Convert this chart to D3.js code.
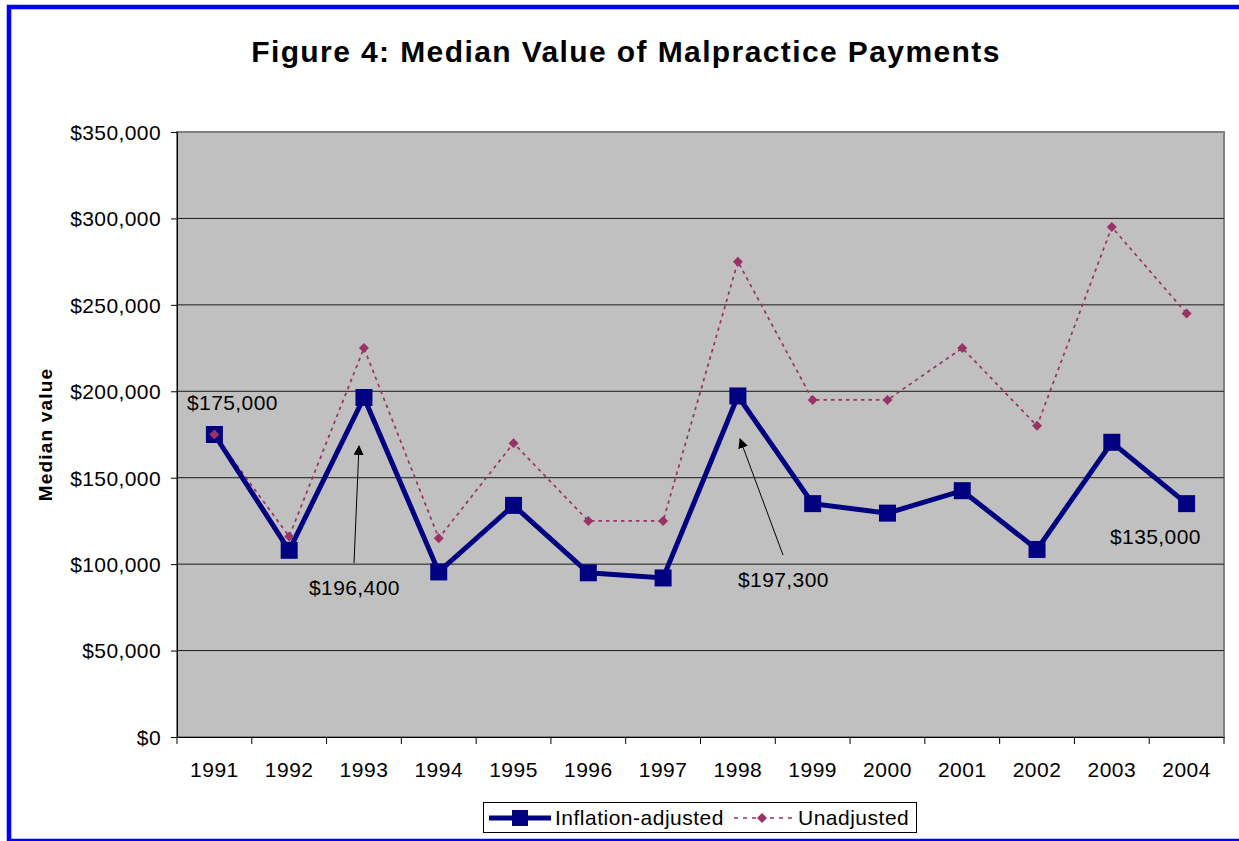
<!DOCTYPE html>
<html>
<head>
<meta charset="utf-8">
<script src="https://cdn.jsdelivr.net/npm/d3@7"></script>
<style>
  body { margin: 0; background: #fff; }
  svg { display: block; font-family: Arial, "Liberation Sans", sans-serif; }
</style>
</head>
<body>
<svg width="1239" height="841"></svg>
<script>
// data
const years = ["1991","1992","1993","1994","1995","1996","1997","1998","1999","2000","2001","2002","2003","2004"];
const adjusted = [175000,108000,196400,95500,134000,95000,92000,197300,135000,129500,142500,108500,170500,135000];
const unadjusted = [175000,116000,225000,115000,170000,125000,125000,275000,195000,195000,225000,180000,295000,245000];
const yTicks = [0,50000,100000,150000,200000,250000,300000,350000];

// callouts
const notes = [
  {text: "$175,000", x: 187, y: 410},
  {text: "$196,400", x: 309, y: 595, arrow: [354, 563, 359, 446]},
  {text: "$197,300", x: 738, y: 587, arrow: [783, 555, 740, 439]},
  {text: "$135,000", x: 1110, y: 544}
];

const svg = d3.select("svg");
const m = {left: 177, right: 1224, top: 132, bottom: 737};

const x = d3.scaleBand().domain(years).range([m.left, m.right]);
const y = d3.scaleLinear().domain([0, 350000]).range([m.bottom, m.top]);
const cx = d => x(d) + x.bandwidth() / 2;

// blue frame
svg.append("rect")
    .attr("x", 9).attr("y", 7)
    .attr("width", 1260).attr("height", 834)
    .attr("fill", "none").attr("stroke", "#0000ff").attr("stroke-width", 4.5);

svg.append("defs").append("marker")
    .attr("id", "arrow")
    .attr("viewBox", "0 0 10 10")
    .attr("refX", 9).attr("refY", 5)
    .attr("markerWidth", 10).attr("markerHeight", 10)
    .attr("markerUnits", "userSpaceOnUse")
    .attr("orient", "auto")
  .append("path")
    .attr("d", "M0,0 L10,5 L0,10 Z")
    .attr("fill", "#000");

// title
svg.append("text")
    .attr("x", 626).attr("y", 62)
    .attr("text-anchor", "middle")
    .attr("font-size", 30).attr("font-weight", "bold")
    .attr("letter-spacing", 1.4)
    .text("Figure 4: Median Value of Malpractice Payments");

// plot area
svg.append("rect")
    .attr("x", m.left).attr("y", m.top)
    .attr("width", m.right - m.left).attr("height", m.bottom - m.top)
    .attr("fill", "#c0c0c0").attr("stroke", "#808080").attr("stroke-width", 2);

// gridlines
svg.append("g")
  .selectAll("line")
  .data(yTicks.slice(1, -1))
  .join("line")
    .attr("x1", m.left).attr("x2", m.right)
    .attr("y1", d => y(d)).attr("y2", d => y(d))
    .attr("stroke", "#1a1a1a").attr("stroke-width", 1);

// y axis
const yAxis = svg.append("g")
    .attr("transform", `translate(${m.left},0)`)
    .call(d3.axisLeft(y).tickValues(yTicks).tickSize(6).tickPadding(10)
      .tickFormat(d => "$" + d3.format(",")(d)));
yAxis.selectAll("text").attr("font-size", 21).attr("letter-spacing", 0.4)
    .attr("fill", "#000").attr("dy", "0.35em");
yAxis.select(".domain").attr("stroke", "#000");

// x axis, ticks between categories
const xAxis = svg.append("g")
    .attr("transform", `translate(0,${m.bottom})`)
    .call(d3.axisBottom(x).tickSize(0).tickPadding(0));
xAxis.selectAll("text").attr("font-size", 21).attr("letter-spacing", 0.5)
    .attr("fill", "#000").attr("dy", null).attr("y", 40);
xAxis.select(".domain").attr("stroke", "#000");
xAxis.selectAll(".bound")
  .data(years.map(d => x(d)).concat([m.right]))
  .join("line")
    .attr("class", "bound")
    .attr("x1", d => d).attr("x2", d => d)
    .attr("y1", 0).attr("y2", 7)
    .attr("stroke", "#000");

svg.append("text")
    .attr("transform", `translate(52,${(m.top + m.bottom) / 2}) rotate(-90)`)
    .attr("text-anchor", "middle")
    .attr("font-size", 19).attr("font-weight", "bold")
    .attr("letter-spacing", 1.2)
    .text("Median value");

const line = d3.line().x((d, i) => cx(years[i])).y(d => y(d));

// unadjusted series
svg.append("path")
    .datum(unadjusted)
    .attr("d", line)
    .attr("fill", "none").attr("stroke", "#993366")
    .attr("stroke-width", 1.7).attr("stroke-dasharray", "3.5,4");

// inflation-adjusted series
svg.append("path")
    .datum(adjusted)
    .attr("d", line)
    .attr("fill", "none").attr("stroke", "#000080")
    .attr("stroke-width", 5);

svg.append("g")
  .selectAll("rect")
  .data(adjusted)
  .join("rect")
    .attr("x", (d, i) => cx(years[i]) - 8.5)
    .attr("y", d => y(d) - 8.5)
    .attr("width", 17).attr("height", 17)
    .attr("fill", "#000080");

svg.append("g")
  .selectAll("path")
  .data(unadjusted)
  .join("path")
    .attr("transform", (d, i) => `translate(${cx(years[i])},${y(d)})`)
    .attr("d", "M0,-5 L5,0 L0,5 L-5,0 Z")
    .attr("fill", "#993366");

// callouts
const ann = svg.append("g");
ann.selectAll("text")
  .data(notes)
  .join("text")
    .attr("x", d => d.x).attr("y", d => d.y)
    .attr("font-size", 21).attr("letter-spacing", 0.4)
    .text(d => d.text);
ann.selectAll("line")
  .data(notes.filter(d => d.arrow))
  .join("line")
    .attr("x1", d => d.arrow[0]).attr("y1", d => d.arrow[1])
    .attr("x2", d => d.arrow[2]).attr("y2", d => d.arrow[3])
    .attr("stroke", "#000").attr("stroke-width", 1)
    .attr("marker-end", "url(#arrow)");

// legend
const lg = svg.append("g");
lg.append("rect")
    .attr("x", 483.5).attr("y", 802.5).attr("width", 433).attr("height", 30)
    .attr("fill", "#fff").attr("stroke", "#000");
lg.append("line")
    .attr("x1", 489).attr("x2", 551).attr("y1", 818).attr("y2", 818)
    .attr("stroke", "#000080").attr("stroke-width", 5);
lg.append("rect")
    .attr("x", 512).attr("y", 810).attr("width", 16).attr("height", 16)
    .attr("fill", "#000080");
lg.append("text")
    .attr("x", 555).attr("y", 825).attr("font-size", 21).attr("letter-spacing", 0.5)
    .text("Inflation-adjusted");
lg.append("line")
    .attr("x1", 734).attr("x2", 792).attr("y1", 818).attr("y2", 818)
    .attr("stroke", "#993366").attr("stroke-width", 1.7).attr("stroke-dasharray", "4,5");
lg.append("path")
    .attr("transform", "translate(762,818)")
    .attr("d", "M0,-5 L5,0 L0,5 L-5,0 Z")
    .attr("fill", "#993366");
lg.append("text")
    .attr("x", 798).attr("y", 825).attr("font-size", 21).attr("letter-spacing", 0.5)
    .text("Unadjusted");
</script>
</body>
</html>
